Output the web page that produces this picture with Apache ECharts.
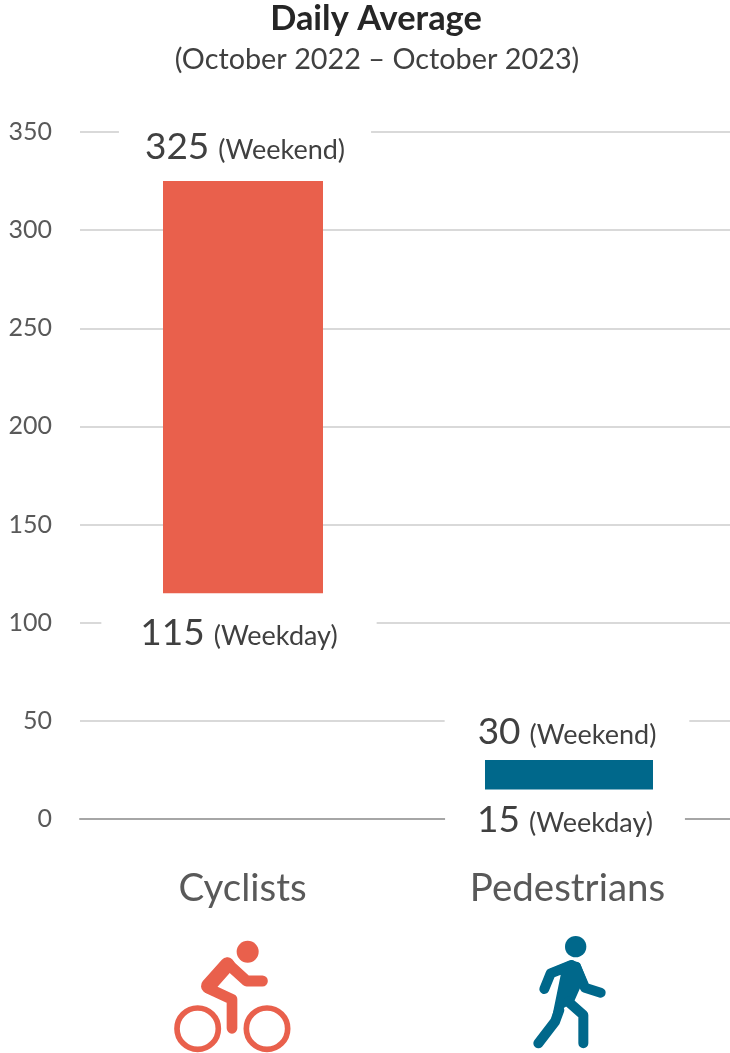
<!DOCTYPE html>
<html>
<head>
<meta charset="utf-8">
<style>html,body{margin:0;padding:0;background:#fff}#c{width:730px;height:1053px}</style>
<script src="https://cdn.jsdelivr.net/npm/echarts@6/dist/echarts.min.js"></script>
</head>
<body>
<div id="c"></div>
<script>
const categories = ['Cyclists', 'Pedestrians'];
const weekday = [115, 15];
const weekend = [325, 30];
const yTicks = [0, 350, 50];
const titleText = 'Daily Average';
const subtitleText = '(October 2022 \u2013 October 2023)';

const colors = ['#E9604C', '#00688B'];
const barW = [160, 168];
const barShift = [0.5, 1.5];
// [x shift from bar centre, y offset from bar end, side padding of the white box]
const hiLabel = [[2, -34, 26], [-2, -28, 33]];
const loLabel = [[-4, 40, 39], [-4, 31, 32]];

const chart = echarts.init(document.getElementById('c'), null, {renderer: 'canvas'});

function labelEl(val, word, pos, lay) {
  return {
    type: 'text', z2: 5,
    style: {
      text: '{n|' + val + '}{t|(' + word + ')}',
      x: pos[0] + lay[0], y: pos[1] + lay[1],
      align: 'center', verticalAlign: 'middle',
      backgroundColor: '#fff', padding: [0, lay[2]],
      rich: {
        n: {fontFamily: 'Lato', fontSize: 37, fill: '#404040', color: '#404040'},
        t: {fontFamily: 'Lato', fontSize: 27, fill: '#404040', color: '#404040', padding: [6, 0, 0, 9]}
      }
    }
  };
}

function renderBar(params, api) {
  const i = api.value(0);
  const lo = api.coord([i, api.value(1)]);
  const hi = api.coord([i, api.value(2)]);
  const cx = lo[0] + barShift[i];
  return {
    type: 'group',
    children: [
      {type: 'rect', shape: {x: cx - barW[i] / 2, y: hi[1], width: barW[i], height: lo[1] - hi[1]},
       style: {fill: colors[i]}},
      labelEl(api.value(2), 'Weekend', [cx, hi[1]], hiLabel[i]),
      labelEl(api.value(1), 'Weekday', [cx, lo[1]], loLabel[i])
    ]
  };
}

function stroke(points, w, color) {
  return {type: 'polyline', shape: {points: points},
    style: {stroke: color, lineWidth: w, fill: null, lineCap: 'round', lineJoin: 'round'}};
}

const cyc = colors[0], ped = colors[1];
const cyclistIcon = {
  type: 'group', x: 150, y: 920, scaleX: 1 / 3, scaleY: 1 / 3,
  children: [
    {type: 'circle', shape: {cx: 293, cy: 95, r: 33}, style: {fill: cyc}},
    {type: 'circle', shape: {cx: 143, cy: 326, r: 62}, style: {fill: null, stroke: cyc, lineWidth: 17}},
    {type: 'circle', shape: {cx: 351, cy: 326, r: 62}, style: {fill: null, stroke: cyc, lineWidth: 17}},
    stroke([[337, 183], [290, 183], [232, 130]], 33, cyc),
    stroke([[232, 134], [175, 198]], 44, cyc),
    stroke([[175, 205], [246, 238], [246, 325]], 32, cyc)
  ]
};
const walkerIcon = {
  type: 'group', x: 500, y: 920, scaleX: 1 / 3, scaleY: 1 / 3,
  children: [
    {type: 'circle', shape: {cx: 227, cy: 80, r: 32}, style: {fill: ped}},
    stroke([[133, 207], [152, 160], [215, 135]], 30, ped),
    stroke([[228, 140], [255, 203], [302, 218]], 30, ped),
    {type: 'polygon', shape: {points: [[150, 147], [215, 120], [240, 130], [262, 185], [240, 205], [222, 245], [190, 265], [155, 297], [182, 165]]},
     style: {fill: ped}},
    stroke([[178, 270], [165, 305], [115, 370]], 30, ped),
    stroke([[205, 245], [250, 285], [250, 370]], 30, ped)
  ]
};

chart.setOption({
  animation: false,
  backgroundColor: '#fff',
  grid: {left: 80, right: 0, top: 132, height: 687, containLabel: false},
  title: [
    {text: titleText, left: 371, top: 14, textAlign: 'center', textVerticalAlign: 'middle',
     textStyle: {fontFamily: 'Lato', fontSize: 34.4, fontWeight: 'bold', color: '#262626'}},
    {text: subtitleText, left: 372, top: 55, textAlign: 'center', textVerticalAlign: 'middle',
     textStyle: {fontFamily: 'Lato', fontSize: 28.8, fontWeight: 'normal', color: '#404040'}}
  ],
  xAxis: {
    type: 'category', data: categories,
    axisTick: {show: false},
    axisLine: {show: true, lineStyle: {color: '#A6A6A6', width: 2}},
    axisLabel: {fontFamily: 'Lato', fontSize: 38.5, color: '#595959', margin: 70, verticalAlign: 'middle', lineHeight: 40}
  },
  yAxis: {
    type: 'value', min: yTicks[0], max: yTicks[1], interval: yTicks[2],
    axisLine: {show: false}, axisTick: {show: false},
    axisLabel: {fontFamily: 'Lato', fontSize: 25, color: '#595959', margin: 28},
    splitLine: {lineStyle: {color: '#D9D9D9', width: 2}}
  },
  series: [{
    type: 'custom',
    renderItem: renderBar,
    encode: {x: 0, y: [1, 2]},
    data: categories.map((c, i) => [i, weekday[i], weekend[i]]),
    clip: false
  }],
  graphic: [cyclistIcon, walkerIcon]
});
</script>
</body>
</html>
